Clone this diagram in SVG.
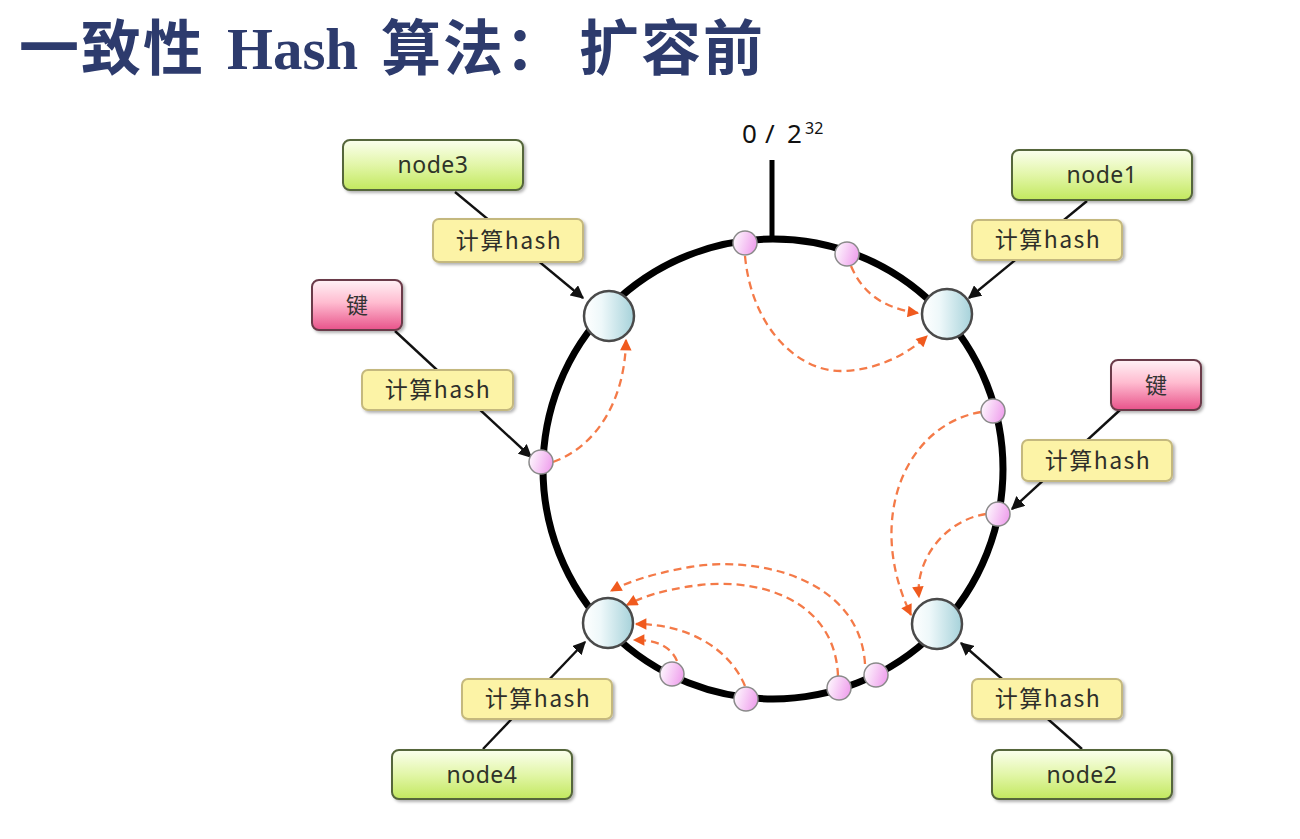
<svg xmlns="http://www.w3.org/2000/svg" width="1300" height="839" viewBox="0 0 1300 839">
<defs>
<linearGradient id="gBlue" x1="0" y1="0" x2="1" y2="0"><stop offset="0" stop-color="#ffffff"/><stop offset="0.35" stop-color="#eef8fa"/><stop offset="1" stop-color="#a6d2da"/></linearGradient>
<linearGradient id="gPinkDot" x1="0" y1="0" x2="1" y2="0.3"><stop offset="0" stop-color="#ffffff"/><stop offset="1" stop-color="#f0a6ee"/></linearGradient>
<linearGradient id="gGreen" x1="0" y1="0" x2="0" y2="1"><stop offset="0" stop-color="#fbffee"/><stop offset="0.5" stop-color="#e2f6a8"/><stop offset="1" stop-color="#c2e85e"/></linearGradient>
<linearGradient id="gKey" x1="0" y1="0" x2="0" y2="1"><stop offset="0" stop-color="#fff2f6"/><stop offset="0.45" stop-color="#ffbcd0"/><stop offset="1" stop-color="#e8528a"/></linearGradient>
<filter id="sh" x="-10%" y="-10%" width="130%" height="140%"><feDropShadow dx="2" dy="2" stdDeviation="1.5" flood-color="#000" flood-opacity="0.3"/></filter>
<marker id="ab" viewBox="0 0 10 10" refX="9" refY="5" markerWidth="5.5" markerHeight="5.5" orient="auto"><path d="M0,0 L10,5 L0,10 Z" fill="#111"/></marker>
<marker id="ao" viewBox="0 0 10 10" refX="9" refY="5" markerWidth="5.5" markerHeight="5" orient="auto"><path d="M0,0 L10,5 L0,10 Z" fill="#f05a1e"/></marker>
<style>
.title{font-weight:700;fill:#2d3b6d;font-size:60px}
.cjk{font-family:"Noto Sans CJK SC","Noto Sans",sans-serif;letter-spacing:2px}
.lat{font-family:"Liberation Serif",serif;font-size:59px}
.ring{fill:none;stroke:#000;stroke-width:7}
.big{fill:url(#gBlue);stroke:#4a4a4a;stroke-width:2.5}
.dot{fill:url(#gPinkDot);stroke:#8a8a8a;stroke-width:1.5}
.nbox{fill:url(#gGreen);stroke:#55663a;stroke-width:2}
.hbox{fill:#fcf3a6;stroke:#c4b87e;stroke-width:2}
.kbox{fill:url(#gKey);stroke:#6a3a48;stroke-width:2}
.lbl{font-family:"Noto Sans",sans-serif;font-size:23px;fill:#2f3328;text-anchor:middle;letter-spacing:0.5px}
.hl{font-family:"Noto Sans CJK SC",sans-serif;font-size:23px;fill:#2f2f2a;text-anchor:middle;letter-spacing:1.5px}
.kl{font-family:"Noto Sans CJK SC",sans-serif;font-size:22px;fill:#333;text-anchor:middle}
.solid{fill:none;stroke:#111;stroke-width:2.4;marker-end:url(#ab)}
.dash{fill:none;stroke:#f47a48;stroke-width:2.3;stroke-dasharray:8 5;marker-end:url(#ao)}
.axis{font-family:"Noto Sans",sans-serif;fill:#111}
</style>
</defs>
<rect width="1300" height="839" fill="#ffffff"/>
<g id="title">
<text class="title cjk" x="19" y="70">一致性</text>
<text class="title lat" x="227" y="69">Hash</text>
<text class="title cjk" x="381" y="70">算法：</text>
<text class="title cjk" x="579" y="70">扩容前</text>
</g>

<g id="ring">
<circle class="ring" cx="773" cy="469" r="230"/>
<line x1="772" y1="160" x2="772" y2="240" stroke="#000" stroke-width="5"/>
<text class="axis" font-size="26" x="742" y="143">0</text>
<text class="axis" font-size="26" x="765" y="143">/</text>
<text class="axis" font-size="26" x="787" y="143">2</text>
<text class="axis" font-size="16" x="805" y="134">32</text>
</g>

<g id="connectors">
<path class="dash" d="M745,256 C752,330 800,372 842,371 C880,370 910,352 927,336"/>
<path class="dash" d="M851,266 C862,292 882,308 918,313"/>
<path class="dash" d="M553,462 C597,446 625,400 626,340"/>
<path class="dash" d="M981,412 C905,425 865,520 911,615"/>
<path class="dash" d="M986,514 C945,520 915,560 919,597"/>
<path class="dash" d="M865,664 C860,580 760,555 690,567 C650,574 625,583 611,591"/>
<path class="dash" d="M838,676 C835,600 760,578 700,585 C660,590 640,598 627,605"/>
<path class="dash" d="M745,686 C730,650 690,624 636,624"/>
<path class="dash" d="M677,661 C670,645 655,640 634,640"/>
<path class="solid" d="M455,192 L583,298"/>
<path class="solid" d="M395,331 L531,457"/>
<path class="solid" d="M1087,201 L969,298"/>
<path class="solid" d="M1120,410 L1012,509"/>
<path class="solid" d="M483,749 L585,642"/>
<path class="solid" d="M1082,749 L961,643"/>
</g>

<g id="ring-nodes">
<circle id="p-node3" class="big" cx="609" cy="316" r="25"/>
<circle id="p-node1" class="big" cx="947" cy="314" r="25"/>
<circle id="p-node2" class="big" cx="937" cy="624" r="25"/>
<circle id="p-node4" class="big" cx="608" cy="623" r="25"/>
<circle class="dot" cx="745" cy="243" r="12"/>
<circle class="dot" cx="847" cy="254" r="12"/>
<circle class="dot" cx="541" cy="462" r="12"/>
<circle class="dot" cx="993" cy="411" r="12"/>
<circle class="dot" cx="998" cy="514" r="12"/>
<circle class="dot" cx="672" cy="674" r="12"/>
<circle class="dot" cx="746" cy="699" r="12"/>
<circle class="dot" cx="839" cy="688" r="12"/>
<circle class="dot" cx="876" cy="675" r="12"/>
</g>

<g id="node3"><rect class="nbox" x="343" y="140" width="180" height="50" rx="7" filter="url(#sh)"/><text class="lbl" x="433" y="173">node3</text></g>
<g id="hash3"><rect class="hbox" x="433" y="219" width="150" height="43" rx="6" filter="url(#sh)"/><text class="hl" x="509" y="249">计算hash</text></g>
<g id="key-left"><rect class="kbox" x="312" y="280" width="90" height="50" rx="7" filter="url(#sh)"/><text class="kl" x="357" y="313">键</text></g>
<g id="hash-key-left"><rect class="hbox" x="362" y="370" width="151" height="40" rx="6" filter="url(#sh)"/><text class="hl" x="438" y="398">计算hash</text></g>
<g id="node1"><rect class="nbox" x="1012" y="150" width="180" height="50" rx="7" filter="url(#sh)"/><text class="lbl" x="1102" y="183">node1</text></g>
<g id="hash1"><rect class="hbox" x="972" y="220" width="150" height="40" rx="6" filter="url(#sh)"/><text class="hl" x="1048" y="248">计算hash</text></g>
<g id="key-right"><rect class="kbox" x="1111" y="360" width="90" height="50" rx="7" filter="url(#sh)"/><text class="kl" x="1156" y="393">键</text></g>
<g id="hash-key-right"><rect class="hbox" x="1022" y="440" width="150" height="41" rx="6" filter="url(#sh)"/><text class="hl" x="1098" y="469">计算hash</text></g>
<g id="hash4"><rect class="hbox" x="462" y="679" width="150" height="40" rx="6" filter="url(#sh)"/><text class="hl" x="538" y="707">计算hash</text></g>
<g id="node4"><rect class="nbox" x="392" y="750" width="180" height="49" rx="7" filter="url(#sh)"/><text class="lbl" x="482" y="783">node4</text></g>
<g id="hash2"><rect class="hbox" x="972" y="679" width="150" height="40" rx="6" filter="url(#sh)"/><text class="hl" x="1048" y="707">计算hash</text></g>
<g id="node2"><rect class="nbox" x="992" y="750" width="180" height="49" rx="7" filter="url(#sh)"/><text class="lbl" x="1082" y="783">node2</text></g>
</svg>
